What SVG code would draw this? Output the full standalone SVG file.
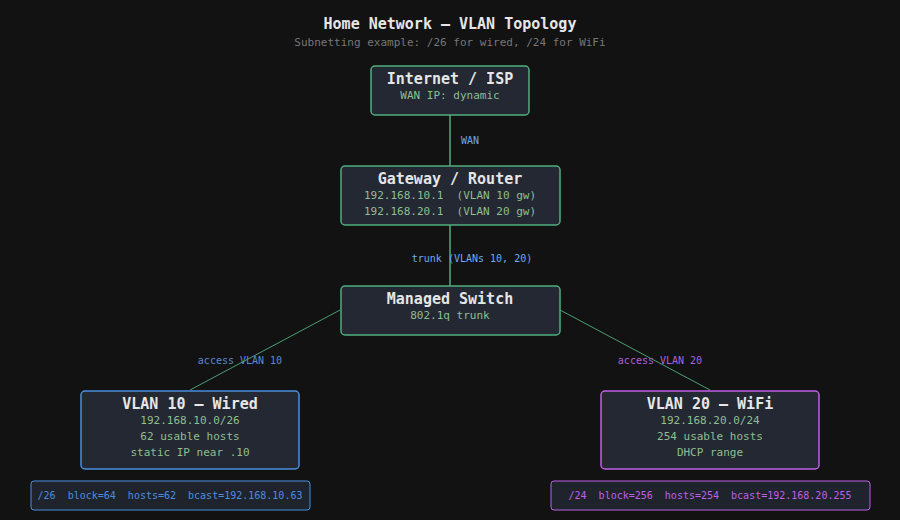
<svg xmlns="http://www.w3.org/2000/svg" width="900" height="520" viewBox="0 0 900 520">
<style>
text{font-family:"DejaVu Sans Mono","Liberation Mono",monospace;text-anchor:middle;white-space:pre}
.n{fill:#232833;stroke:#4fae7f;stroke-width:1.5}
.b{fill:#232833;stroke:#4a8ee0;stroke-width:1.5}
.p{fill:#232833;stroke:#c060e8;stroke-width:1.5}
.t{fill:#e6e6e6;font-size:15px;font-weight:bold}
.s{fill:#8fbf8f;font-size:11px}
.l{font-size:10px}
</style>
<rect width="900" height="520" fill="#121212"/>
<text x="450" y="29" fill="#e6e6e6" font-size="15" font-weight="bold">Home Network — VLAN Topology</text>
<text x="450" y="46" fill="#777" font-size="11">Subnetting example: /26 for wired, /24 for WiFi</text>
<g id="connectors" stroke="#4fae7f" fill="none">
<line x1="450" y1="115" x2="450" y2="166" stroke-width="1.5"/>
<line x1="450" y1="225" x2="450" y2="286" stroke-width="1.5"/>
<line x1="340" y1="310" x2="190" y2="390" stroke-width="0.9"/>
<line x1="560" y1="310" x2="710" y2="390" stroke-width="0.9"/>
</g>
<text class="l" x="470" y="144" fill="#6aaaf0">WAN</text>
<text class="l" x="472" y="262" fill="#6aaaf0">trunk (VLANs 10, 20)</text>
<text class="l" x="240" y="364" fill="#5a8ad0">access VLAN 10</text>
<text class="l" x="660" y="364" fill="#b060d8">access VLAN 20</text>
<g id="isp"><rect class="n" x="371" y="66" width="158" height="49" rx="4"/>
<text class="t" x="450" y="84">Internet / ISP</text><text class="s" x="450" y="99">WAN IP: dynamic</text></g>
<g id="router"><rect class="n" x="341" y="166" width="219" height="59" rx="4"/>
<text class="t" x="450" y="184">Gateway / Router</text><text class="s" x="450" y="199">192.168.10.1  (VLAN 10 gw)</text><text class="s" x="450" y="215">192.168.20.1  (VLAN 20 gw)</text></g>
<g id="switch"><rect class="n" x="341" y="286" width="219" height="49" rx="4"/>
<text class="t" x="450" y="304">Managed Switch</text><text class="s" x="450" y="319">802.1q trunk</text></g>
<g id="vlan10"><rect class="b" x="81" y="391" width="218" height="78" rx="4"/>
<text class="t" x="190" y="409">VLAN 10 — Wired</text><text class="s" x="190" y="424">192.168.10.0/26</text><text class="s" x="190" y="440">62 usable hosts</text><text class="s" x="190" y="456">static IP near .10</text></g>
<g id="vlan20"><rect class="p" x="601" y="391" width="218" height="78" rx="4"/>
<text class="t" x="710" y="409">VLAN 20 — WiFi</text><text class="s" x="710" y="424">192.168.20.0/24</text><text class="s" x="710" y="440">254 usable hosts</text><text class="s" x="710" y="456">DHCP range</text></g>
<g id="info10"><rect x="31" y="481" width="279" height="29" rx="3" fill="#1e232c" stroke="#4a8ee0"/>
<text x="170" y="499" fill="#4a8ee0" font-size="10">/26  block=64  hosts=62  bcast=192.168.10.63</text></g>
<g id="info20"><rect x="551" y="481" width="319" height="29" rx="3" fill="#1e232c" stroke="#c060e8"/>
<text x="710" y="499" fill="#c060e8" font-size="10">/24  block=256  hosts=254  bcast=192.168.20.255</text></g>
</svg>
